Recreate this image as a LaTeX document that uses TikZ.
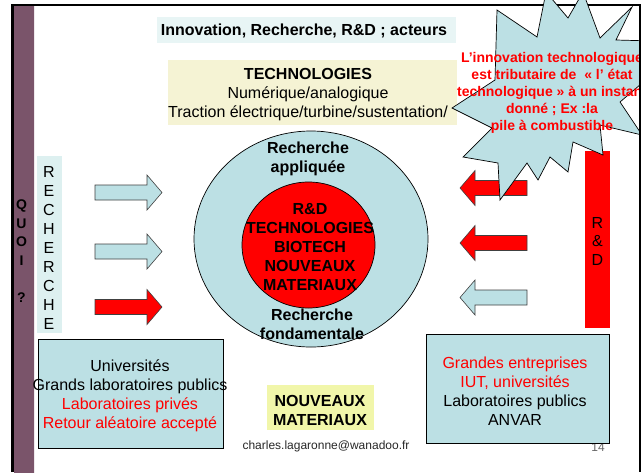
\documentclass[tikz,border=0pt]{standalone}
\usepackage{fontspec}
\setmainfont{Liberation Sans}
\usetikzlibrary{shapes.geometric}
\definecolor{lb}{RGB}{188,224,228}
\definecolor{titlebg}{RGB}{232,245,245}
\definecolor{techbg}{RGB}{245,243,212}
\definecolor{nouvbg}{RGB}{241,246,170}
\definecolor{rechbg}{RGB}{221,240,240}
\definecolor{barDark}{RGB}{122,84,106}
\definecolor{barPink}{RGB}{242,168,216}
\definecolor{txtgray}{RGB}{40,40,40}
\begin{document}
\begin{tikzpicture}[x=1pt,y=-1pt,
  reg/.style={font=\fontsize{16}{19}\selectfont, align=center, inner sep=0pt},
  bld/.style={font=\bfseries\fontsize{16}{19}\selectfont, align=center, inner sep=0pt},
  plainbox/.style={inner sep=0pt, outer sep=0pt},
  actorbox/.style={draw=black, line width=0.9pt, fill=lb, inner sep=0pt},
  arrowline/.style={draw=black!75, line width=0.6pt},
  rarrow/.pic={\path[pic actions] (0,-7.5) -- (52,-7.5) -- (52,-17.5) -- (67,0)
     -- (52,17.5) -- (52,7.5) -- (0,7.5) -- cycle;}]
\useasboundingbox (0,0) rectangle (644,472);
\fill[white] (0,0) rectangle (644,472);

% side bar with its gradient
\shade[top color=barDark, middle color=barPink, bottom color=barDark] (14,6) rectangle (34,472);
% frame (top and left)
\draw[line width=2.5pt] (12.5,472) -- (12.5,5) -- (641,5);

% QUOI ?
\node[font=\bfseries\fontsize{14}{18.5}\selectfont, align=center, inner sep=0pt] (quoi) at (21.5,251) {Q\\U\\O\\I\\\mbox{}\\?};

% heading
\node[plainbox, fill=titlebg, minimum width=299, minimum height=26] (titlebox) at (306.5,30) {};
\node[bld] (title) at (304,31) {Innovation, Recherche, R\&D ; acteurs};

% technologies
\node[plainbox, fill=techbg, minimum width=289, minimum height=65] (techbox) at (312.5,92.5) {};
\node[reg] (tech) at (308,94.5) {\textbf{TECHNOLOGIES}\\Numérique/analogique\\Traction électrique/turbine/sustentation/};

% RECHERCHE column
\node[plainbox, fill=rechbg, minimum width=25, minimum height=177] (rechbox) at (49.5,244.5) {};
\node[reg] (rech) at (49,247.5) {R\\E\\C\\H\\E\\R\\C\\H\\E};

% arrows pointing right
\pic[arrowline, fill=lb] (ra1) at (95,192.5) {rarrow};
\pic[arrowline, fill=lb] (ra2) at (95,251.5) {rarrow};
\pic[arrowline, fill=red] (ra3) at (95,307) {rarrow};

% arrows pointing left
\pic[arrowline, fill=red, rotate=180] (la1) at (527,188) {rarrow};
\pic[arrowline, fill=red, rotate=180] (la2) at (527,243) {rarrow};
\pic[arrowline, fill=lb, rotate=180] (la3) at (527,297.5) {rarrow};

% R&D bar
\node[plainbox, fill=red, minimum width=25, minimum height=177] (rdbar) at (597.5,239.5) {};
\node[font=\fontsize{16}{18.5}\selectfont, align=center, inner sep=0pt] (rd) at (597.5,241) {R\\\&\\D};

% research circles
\node[ellipse, draw=black, line width=0.7pt, fill=lb, minimum width=234, minimum height=216, inner sep=0pt] (outer) at (311,239) {};
\node[ellipse, draw=black, line width=0.7pt, fill=red, minimum width=133, minimum height=126, inner sep=0pt] (inner) at (308.5,245) {};
\node[bld] (appl) at (308,159) {Recherche\\appliquée};
\node[bld] (core) at (310,247) {R\&D\\TECHNOLOGIES\\BIOTECH\\NOUVEAUX\\MATERIAUX};
\node[bld] (fond) at (312,324) {Recherche\\fondamentale};

% burst with its note
\begin{scope}
  \clip (0,-10) rectangle (640.5,472);
  \path[draw=black, line width=0.7pt, fill=lb]
    (452,108) -- (495,80) -- (497,10) -- (537,37) -- (546,-8) -- (568,18)
    -- (583,-8) -- (600,38) -- (632,7) -- (616,40) -- (690,42) -- (620,102)
    -- (642,135) -- (600,125) -- (603,155) -- (573,142) -- (568,172)
    -- (550,157) -- (538,180) -- (527,163) -- (500,200) -- (498,163)
    -- (463,157) -- (492,128) -- cycle;
  \node[font=\bfseries\fontsize{14}{17}\selectfont, text=red, align=center, inner sep=0pt] (note) at (552,93)
    {L’innovation technologique\\est tributaire de \ « l’ état\\technologique » à un instant\\donné ; Ex :la\\pile à combustible};
\end{scope}
% frame (right)
\draw[line width=2.5pt] (640,5) -- (640,472);

% actors
\node[actorbox, minimum width=185, minimum height=109] (leftbox) at (130.5,393.5) {};
\node[reg] (lefttxt) at (130,395.5) {Universités\\Grands laboratoires publics\\\textcolor{red}{Laboratoires privés}\\\textcolor{red}{Retour aléatoire accepté}};

\node[font=\fontsize{12}{14}\selectfont, text=black!60, inner sep=0pt] (pagenum) at (598,447) {14};
\node[actorbox, minimum width=183, minimum height=109] (rightbox) at (517.5,388.5) {};
\node[reg] (righttxt) at (515,391) {\textcolor{red}{Grandes entreprises}\\\textcolor{red}{IUT, universités}\\Laboratoires publics\\ANVAR};

\node[plainbox, fill=nouvbg, minimum width=107, minimum height=45] (nouvbox) at (320.5,407.5) {};
\node[bld] (nouv) at (320,410) {NOUVEAUX\\MATERIAUX};

\node[font=\fontsize{12}{14}\selectfont, text=txtgray, inner sep=0pt] (mail) at (326,446) {charles.lagaronne@wanadoo.fr};
\end{tikzpicture}
\end{document}
